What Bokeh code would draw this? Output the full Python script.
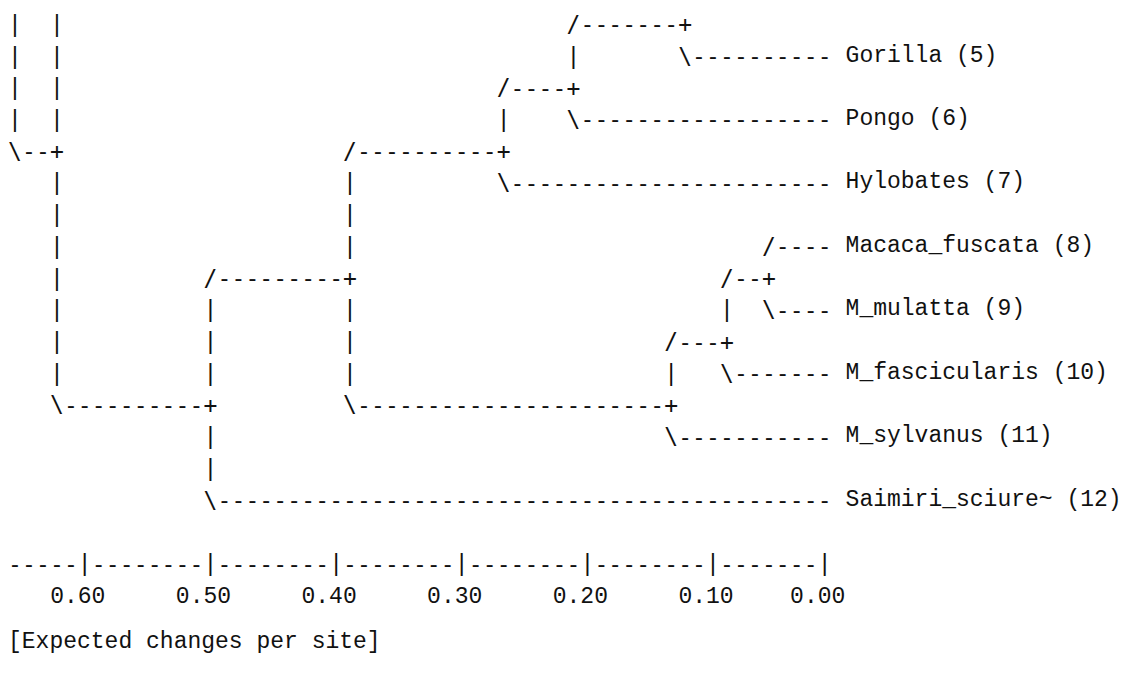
from bokeh.plotting import figure
from bokeh.models import ColumnDataSource, Range1d
from bokeh.core.properties import value
from bokeh.embed import file_html
from bokeh.resources import INLINE

# ---------------- data ----------------
taxa = ["Gorilla", "Pongo", "Hylobates", "Macaca_fuscata", "M_mulatta",
        "M_fascicularis", "M_sylvanus", "Saimiri_sciure~"]
taxon_ids = [5, 6, 7, 8, 9, 10, 11, 12]
tick_labels = ["0.60", "0.50", "0.40", "0.30", "0.20", "0.10", "0.00"]
axis_title = "[Expected changes per site]"

# visible part of the ASCII phylogram (branches only, one string per text row)
tree_rows = [
    "|  |" + " " * 36 + "/-------+",
    "|  |" + " " * 36 + "|" + " " * 7 + "\\" + "-" * 10,
    "|  |" + " " * 31 + "/----+",
    "|  |" + " " * 31 + "|" + " " * 4 + "\\" + "-" * 18,
    "\\--+" + " " * 20 + "/" + "-" * 10 + "+",
    "   |" + " " * 20 + "|" + " " * 10 + "\\" + "-" * 23,
    "   |" + " " * 20 + "|",
    "   |" + " " * 20 + "|" + " " * 29 + "/" + "-" * 4,
    "   |" + " " * 10 + "/" + "-" * 9 + "+" + " " * 26 + "/--+",
    "   |" + " " * 10 + "|" + " " * 9 + "|" + " " * 26 + "|  \\" + "-" * 4,
    "   |" + " " * 10 + "|" + " " * 9 + "|" + " " * 22 + "/---+",
    "   |" + " " * 10 + "|" + " " * 9 + "|" + " " * 22 + "|   \\" + "-" * 7,
    "   \\" + "-" * 10 + "+" + " " * 9 + "\\" + "-" * 22 + "+",
    " " * 14 + "|" + " " * 32 + "\\" + "-" * 11,
    " " * 14 + "|",
    " " * 14 + "\\" + "-" * 44,
]
ruler = "-----|--------|--------|--------|--------|--------|-------|"

# ---------------- layout constants ----------------
W, H = 1124, 665
CELL_W = 13.96      # px per character column
ROW_H = 31.72       # px per text row
TOP = 23.3          # px from top to centre of row 0
LEFT = 7.5          # px from left to column 0
ruler_row = 17
tick_row = 18
title_row = 19.5

x_range = Range1d(-LEFT / CELL_W, (W - LEFT) / CELL_W)
y_range = Range1d(start=(H - TOP) / ROW_H, end=-TOP / ROW_H)

p = figure(width=W, height=H, x_range=x_range, y_range=y_range,
           output_backend="svg", toolbar_location=None,
           x_axis_location=None, y_axis_location=None, min_border=0)
p.xgrid.visible = False
p.ygrid.visible = False
p.outline_line_color = None
p.background_fill_color = "white"
p.border_fill_color = "white"

# branch characters, one per grid cell
cx, cy, ct = [], [], []
for r, s in enumerate(tree_rows):
    for c, ch in enumerate(s):
        if ch != " ":
            cx.append(c + 0.5)
            cy.append(r)
            ct.append(ch)
for c, ch in enumerate(ruler):
    cx.append(c + 0.5)
    cy.append(ruler_row)
    ct.append(ch)

p.text(x="x", y="y", text="t",
       source=ColumnDataSource(dict(x=cx, y=cy, t=ct)),
       text_font=value("DejaVu Sans Mono"), text_font_size="23px",
       text_align="center", text_baseline="middle", text_color="#111111")

# tip labels
tip_rows = [r for r, s in enumerate(tree_rows) if s.endswith("-")]
lx = [len(tree_rows[r]) + 1 for r in tip_rows]
lt = [f"{name} ({i})" for name, i in zip(taxa, taxon_ids)]
p.text(x="x", y="y", text="t",
       source=ColumnDataSource(dict(x=lx, y=tip_rows, t=lt)),
       text_font=value("Liberation Mono"), text_font_size="23px",
       text_align="left", text_baseline="middle", text_color="#111111")

# tick labels under each '|' of the ruler
tick_cols = [c for c, ch in enumerate(ruler) if ch == "|"]
p.text(x="x", y="y", text="t",
       source=ColumnDataSource(dict(x=tick_cols, y=[tick_row] * len(tick_cols),
                                    t=tick_labels)),
       text_font=value("Liberation Mono"), text_font_size="23px",
       text_align="center", text_baseline="middle", text_color="#111111")

# axis caption
p.text(x=[0], y=[title_row], text=[axis_title],
       text_font=value("Liberation Mono"), text_font_size="23px",
       text_align="left", text_baseline="middle", text_color="#111111")

open("out.html", "w").write(file_html(p, INLINE))
